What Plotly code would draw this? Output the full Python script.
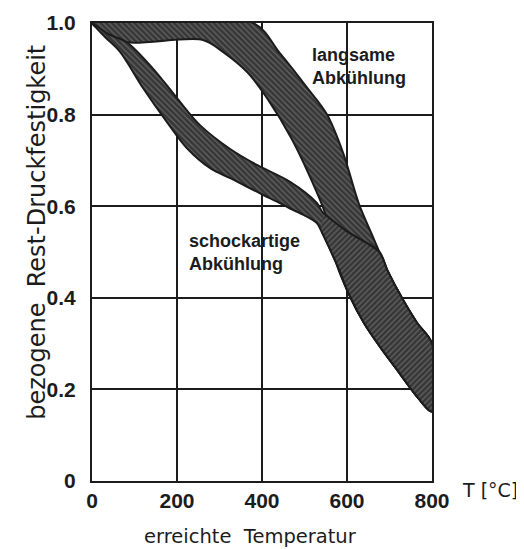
"""Bezogene Rest-Druckfestigkeit nach Erwärmung: langsame vs. schockartige Abkühlung."""

import plotly.graph_objects as go

# langsame Abkühlung: obere / untere Grenze des Streubands
slow_upper_x = [0, 379, 442, 505, 553, 591, 628, 660, 676, 695, 729, 765, 800]
slow_upper_y = [1.0, 1.0, 0.934, 0.86, 0.80, 0.716, 0.605, 0.535, 0.50, 0.46, 0.40, 0.345, 0.30]
slow_lower_x = [0, 40, 82, 261, 308, 365, 412, 471, 529, 548, 575, 606, 640, 680, 720, 760, 800]
slow_lower_y = [1.0, 0.975, 0.958, 0.963, 0.937, 0.893, 0.836, 0.745, 0.63, 0.585, 0.475, 0.405, 0.345, 0.29, 0.24, 0.19, 0.152]

# schockartige Abkühlung
shock_upper_x = [0, 40, 82, 144, 200, 254, 325, 388, 466, 529, 544, 600, 676, 695, 729, 765, 800]
shock_upper_y = [1.0, 0.975, 0.958, 0.90, 0.836, 0.777, 0.725, 0.69, 0.653, 0.607, 0.585, 0.545, 0.50, 0.46, 0.40, 0.345, 0.30]
shock_lower_x = [0, 30, 66, 120, 176, 223, 278, 328, 402, 442, 466, 500, 529, 540, 575, 606, 640, 680, 720, 760, 800]
shock_lower_y = [1.0, 0.97, 0.937, 0.858, 0.784, 0.727, 0.683, 0.66, 0.625, 0.607, 0.595, 0.58, 0.563, 0.545, 0.475, 0.405, 0.345, 0.29, 0.24, 0.19, 0.152]

# Überlappung beider Bänder beginnt hier
overlap_start_x = 540

x_ticks = [0, 200, 400, 600, 800]
y_ticks = [0, 0.2, 0.4, 0.6, 0.8, 1.0]
y_tick_labels = ["0", "0.2", "0.4", "0.6", "0.8", "1.0"]

FONT = "Liberation Sans"
WIDE_FONT = "DejaVu Sans"
INK = "#1c1c1c"


def band_trace(ux, uy, lx, ly, shape, name):
    return go.Scatter(
        x=list(ux) + list(reversed(lx)),
        y=list(uy) + list(reversed(ly)),
        mode="lines",
        fill="toself",
        fillcolor="#3a3a3a",
        fillpattern={"shape": shape, "fgcolor": "#8c8c8c", "bgcolor": "#363636",
                     "size": 4, "solidity": 0.35},
        line={"color": INK, "width": 2, "shape": "spline", "smoothing": 0.9},
        name=name,
        hoverinfo="skip",
        showlegend=False,
    )


fig = go.Figure()
fig.add_trace(band_trace(slow_upper_x, slow_upper_y, slow_lower_x, slow_lower_y, "\\", "langsam"))
fig.add_trace(band_trace(shock_upper_x, shock_upper_y, shock_lower_x, shock_lower_y, "\\", "schockartig"))

ov_ux = [x for x in shock_upper_x if x >= overlap_start_x]
ov_uy = [y for x, y in zip(shock_upper_x, shock_upper_y) if x >= overlap_start_x]
ov_lx = [x for x in shock_lower_x if x >= overlap_start_x]
ov_ly = [y for x, y in zip(shock_lower_x, shock_lower_y) if x >= overlap_start_x]
fig.add_trace(band_trace(ov_ux, ov_uy, ov_lx, ov_ly, "/", "Überlappung"))

# Gitterlinie unter der Beschriftung "langsame Abkühlung" fehlt im Original
fig.add_shape(type="rect", x0=585, x1=615, y0=0.806, y1=0.994,
              fillcolor="white", line={"width": 0}, layer="below")

fig.add_annotation(x=513, y=0.904, xanchor="left", text="<b>langsame<br>Abkühlung</b>",
                   showarrow=False, align="left",
                   font={"family": FONT, "size": 18, "color": INK})
fig.add_annotation(x=224, y=0.50, xanchor="left", text="<b>schockartige<br>Abkühlung</b>",
                   showarrow=False, align="left",
                   font={"family": FONT, "size": 18, "color": INK})

fig.add_annotation(xref="paper", yref="paper", x=1.082, y=-0.02, xanchor="left", yanchor="middle",
                   text="T [°C]", showarrow=False,
                   font={"family": WIDE_FONT, "size": 19, "color": INK})
fig.add_annotation(xref="paper", yref="paper", x=0.465, y=-0.122, yanchor="middle",
                   text="erreichte  Temperatur", showarrow=False,
                   font={"family": WIDE_FONT, "size": 19.5, "color": INK})
fig.add_annotation(xref="paper", yref="paper", x=-0.162, y=0.544, xanchor="center",
                   yanchor="middle", textangle=-90,
                   text="bezogene  Rest-Druckfestigkeit", showarrow=False,
                   font={"family": WIDE_FONT, "size": 24, "color": INK})

axis_common = {
    "showgrid": True,
    "gridcolor": INK,
    "gridwidth": 1.6,
    "showline": True,
    "linecolor": INK,
    "linewidth": 2.2,
    "mirror": True,
    "zeroline": False,
    "ticks": "",
    "tickfont": {"family": FONT, "size": 21, "color": INK, "weight": "bold"},
}

fig.update_xaxes(range=[0, 800], tickvals=x_ticks, ticklabelstandoff=0, **axis_common)
fig.update_yaxes(range=[0, 1.0], tickvals=y_ticks, ticktext=y_tick_labels,
                 ticklabelstandoff=10, **axis_common)

# the page body adds an 8 px offset, so the figure is drawn 8 px smaller
fig.update_layout(
    width=516,
    height=541,
    template="plotly_white",
    plot_bgcolor="white",
    paper_bgcolor="white",
    margin={"l": 84, "r": 92, "t": 15, "b": 68, "autoexpand": False},
    showlegend=False,
)

fig.write_html("out.html")
